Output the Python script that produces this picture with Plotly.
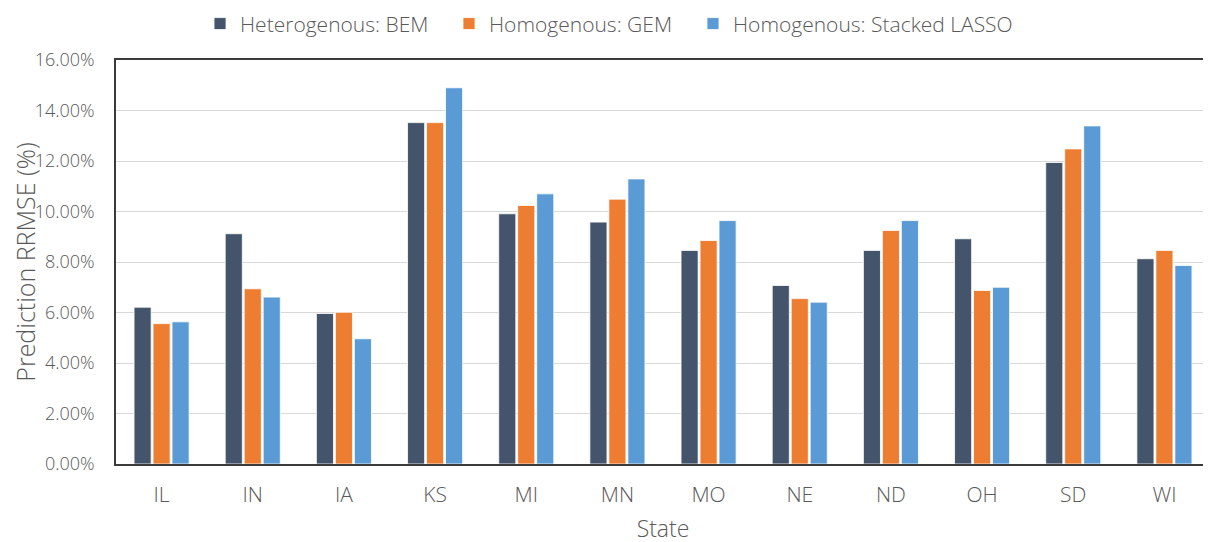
import plotly.graph_objects as go

states = ["IL", "IN", "IA", "KS", "MI", "MN", "MO", "NE", "ND", "OH", "SD", "WI"]
bem = [6.21, 9.12, 5.96, 13.52, 9.91, 9.58, 8.46, 7.07, 8.46, 8.92, 11.94, 8.13]
gem = [5.56, 6.94, 6.01, 13.52, 10.24, 10.49, 8.85, 6.55, 9.25, 6.87, 12.48, 8.46]
lasso = [5.63, 6.61, 4.96, 14.90, 10.70, 11.29, 9.64, 6.41, 9.64, 7.00, 13.39, 7.86]
y_ticks = [0, 2, 4, 6, 8, 10, 12, 14, 16]
y_ticktext = [f"{v:.2f}%" for v in y_ticks]

series = [
    ("Heterogenous: BEM", bem, "#44546A", "legend2", 0.0768),
    ("Homogenous: GEM", gem, "#ED7D31", "legend3", 0.3044),
    ("Homogenous: Stacked LASSO", lasso, "#5B9BD5", "legend4", 0.5274),
]

FONT = "Open Sans"
GREY = "#595959"

fig = go.Figure()
legends = {}
for name, vals, col, lg, lx in series:
    fig.add_trace(go.Bar(
        x=states, y=vals, name=name, legend=lg, showlegend=True,
        marker=dict(color=col, line=dict(color="white", width=0.8)),
    ))
    legends[lg] = dict(
        orientation="h", x=lx, xanchor="left",
        y=1.14, yref="paper", yanchor="top",
        font=dict(family=FONT, size=21, color=GREY, weight=300),
        bgcolor="rgba(0,0,0,0)",
    )

fig.update_layout(
    width=1211, height=542, showlegend=True,
    paper_bgcolor="white", plot_bgcolor="white",
    margin=dict(l=108, r=9, t=52, b=86, autoexpand=False),
    barmode="group", bargap=0.375, bargroupgap=0.1,
    font=dict(family=FONT, color=GREY, size=16, weight=300),
    xaxis=dict(
        showline=True, linecolor="#3A3A3A", linewidth=1.5, mirror=True,
        ticks="", ticklabelstandoff=11, automargin=False,
        tickfont=dict(family=FONT, size=21, color=GREY, weight=300),
        title=dict(text="State", font=dict(family=FONT, size=23, color=GREY, weight=300), standoff=14),
    ),
    yaxis=dict(
        range=[0, 16], tickvals=y_ticks, ticktext=y_ticktext,
        showgrid=True, gridcolor="#D9D9D9", gridwidth=1.3,
        showline=True, linecolor="#3A3A3A", linewidth=1.5, mirror=True,
        ticks="", ticklabelstandoff=16, zeroline=False, automargin=False,
        tickfont=dict(family=FONT, size=18, color=GREY, weight=300),
        title=dict(text="Prediction RRMSE (%)", font=dict(family=FONT, size=25, color=GREY, weight=300), standoff=2),
    ),
    **legends,
)

fig.write_html("out.html")
